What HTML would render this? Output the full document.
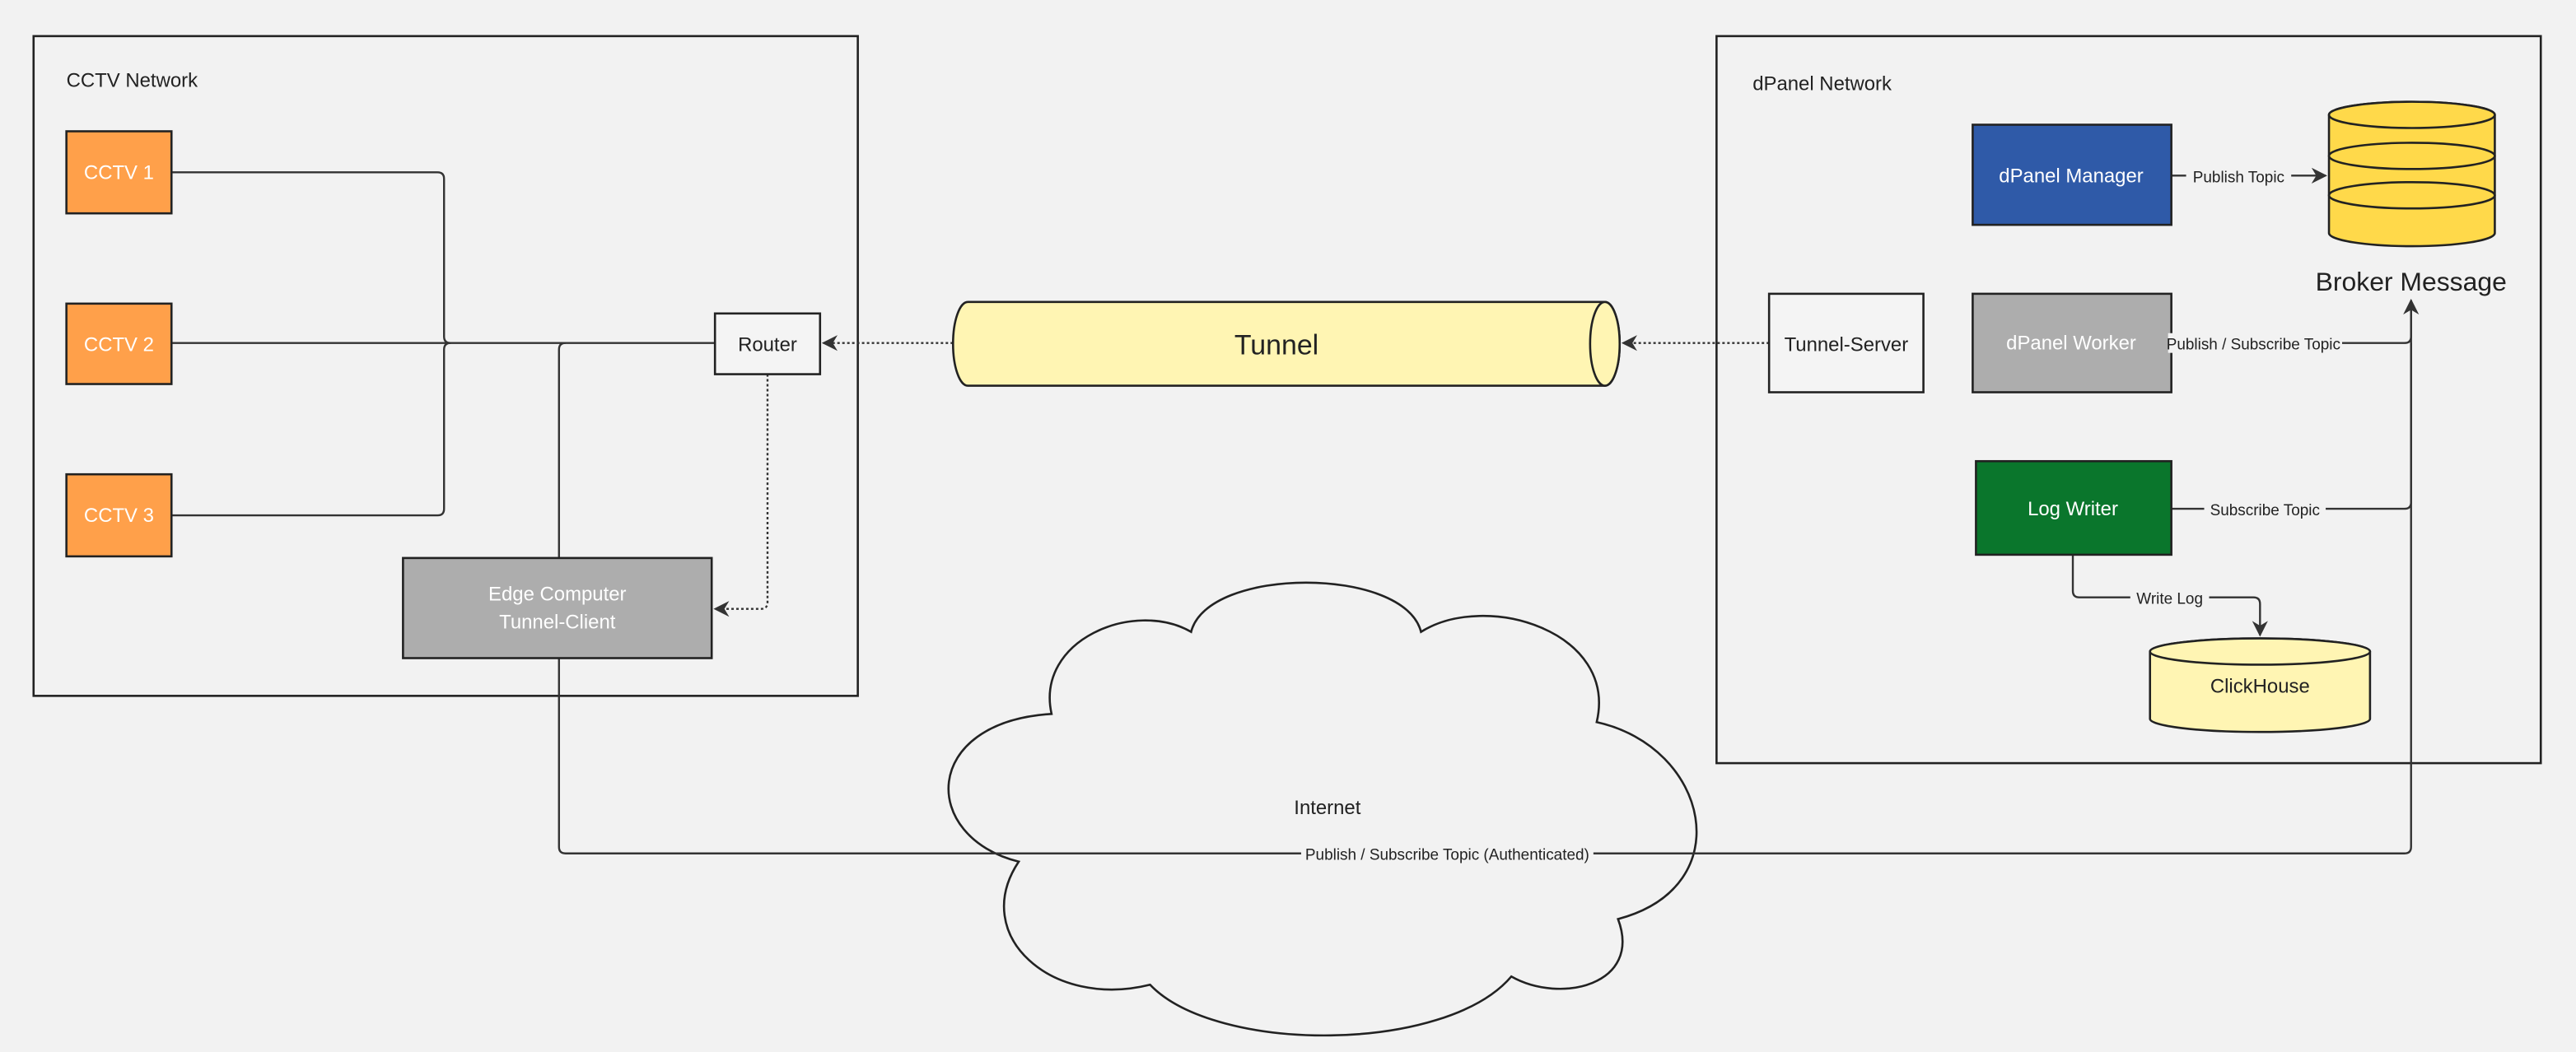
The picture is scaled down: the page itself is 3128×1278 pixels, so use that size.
<!DOCTYPE html>
<html><head><meta charset="utf-8"><style>html,body{margin:0;padding:0;background:#f2f2f2}svg{display:block}text{font-family:"Liberation Sans","DejaVu Sans",sans-serif}</style></head>
<body>
<svg width="3128" height="1278" viewBox="0 0 1568 641" xmlns="http://www.w3.org/2000/svg">
<defs>
<marker id="a" viewBox="0 0 10 10" refX="9" refY="5" markerWidth="8" markerHeight="8" orient="auto"><path d="M0,0 L10,5 L0,10 L3,5 Z" fill="#333"/></marker>
</defs>
<rect width="1568" height="641" fill="#f2f2f2"/>
<g fill="none" stroke="#222" stroke-width="1.3">
<rect x="20" y="22" width="502" height="402"/>
<rect x="1045" y="22" width="502" height="443"/>
</g>
<text x="40" y="53" font-size="12" fill="#222">CCTV Network</text>
<text x="1067" y="55" font-size="12" fill="#222">dPanel Network</text>
<!-- cloud -->
<path d="M640,435 C630,390 690,365 725,385 C735,345 855,345 865,385 C905,360 985,385 972,440 C1040,455 1060,540 985,560 C1000,600 950,612 920,595 C880,642 740,642 700,600 C640,615 590,570 620,525 C560,510 560,440 640,435 Z" fill="#f2f2f2" stroke="#222" stroke-width="1.3"/>
<text x="808" y="496" font-size="12" text-anchor="middle" fill="#222">Internet</text>
<!-- connectors CCTV -->
<g fill="none" stroke="#333" stroke-width="1.2">
<path d="M104,105 H266 Q270,105 270,109 V205 Q270,209 274,209"/>
<path d="M104,314 H266 Q270,314 270,310 V213 Q270,209 274,209"/>
<path d="M104,209 H435"/>
<path d="M340,340 V213 Q340,209 344,209"/>
<path d="M340,401 V516 Q340,520 344,520 H1464 Q1468,520 1468,516 V183" marker-end="url(#a)"/>
<path d="M1322,107 H1416" marker-end="url(#a)"/>
<path d="M1322,209 H1464 Q1468,209 1468,205 V183"/>
<path d="M1322,310 H1464 Q1468,310 1468,306 V209"/>
<path d="M1262,338 V360 Q1262,364 1266,364 H1372 Q1376,364 1376,368 V387" marker-end="url(#a)"/>
</g>
<g fill="none" stroke="#333" stroke-width="1.2" stroke-dasharray="1.5,1.5">
<path d="M580,209 H501" marker-end="url(#a)"/>
<path d="M1077,209 H988" marker-end="url(#a)"/>
<path d="M467,228 V367 Q467,371 463,371 H435" marker-end="url(#a)"/>
</g>
<!-- nodes -->
<g stroke="#222" stroke-width="1.3">
<rect x="40" y="80" width="64" height="50" fill="#ffa04a"/>
<rect x="40" y="185" width="64" height="49" fill="#ffa04a"/>
<rect x="40" y="289" width="64" height="50" fill="#ffa04a"/>
<rect x="435" y="191" width="64" height="37" fill="#f4f4f4"/>
<rect x="245" y="340" width="188" height="61" fill="#adadad"/>
<rect x="1201" y="76" width="121" height="61" fill="#2f5aa8"/>
<rect x="1077" y="179" width="94" height="60" fill="#f4f4f4"/>
<rect x="1201" y="179" width="121" height="60" fill="#adadad"/>
<rect x="1203" y="281" width="119" height="57" fill="#0a762c"/>
<!-- tunnel -->
<path d="M589,184 H977 A9,25.5 0 0 1 977,235 H589 A9,25.5 0 0 1 589,184 Z" fill="#fff5b3"/>
<ellipse cx="977" cy="209.5" rx="9" ry="25.5" fill="#fff5b3"/>
<!-- broker -->
<path d="M1418,70 A50.5,8 0 0 1 1519,70 V142 A50.5,8 0 0 1 1418,142 Z" fill="#ffd94a"/>
<ellipse cx="1468.5" cy="70" rx="50.5" ry="8" fill="#ffd94a"/>
<path d="M1418,95 A50.5,8 0 0 0 1519,95 M1418,95 A50.5,8 0 0 1 1519,95 M1418,119 A50.5,8 0 0 0 1519,119 M1418,119 A50.5,8 0 0 1 1519,119" fill="none"/>
<!-- clickhouse -->
<path d="M1309,397 A67,8 0 0 1 1443,397 V438 A67,8 0 0 1 1309,438 Z" fill="#fff5b3"/>
<ellipse cx="1376" cy="397" rx="67" ry="8" fill="#fff5b3"/>
</g>
<g font-size="12" text-anchor="middle" fill="#fff">
<text x="72" y="109">CCTV 1</text>
<text x="72" y="214">CCTV 2</text>
<text x="72" y="318">CCTV 3</text>
<text x="339" y="366">Edge Computer</text>
<text x="339" y="383">Tunnel-Client</text>
<text x="1261" y="111">dPanel Manager</text>
<text x="1261" y="213">dPanel Worker</text>
<text x="1262" y="314">Log Writer</text>
</g>
<g font-size="12" text-anchor="middle" fill="#222">
<text x="467" y="214">Router</text>
<text x="1124" y="214">Tunnel-Server</text>
<text x="1376" y="422">ClickHouse</text>
<text x="777" y="216" font-size="17">Tunnel</text>
<text x="1468" y="177" font-size="16">Broker Message</text>
</g>
<!-- edge labels -->
<g fill="#f2f2f2">
<rect x="1331" y="101" width="64" height="12"/>
<rect x="1320" y="203" width="106" height="12"/>
<rect x="1342" y="304" width="74" height="12"/>
<rect x="1297" y="358" width="48" height="12"/>
<rect x="792" y="514" width="178" height="12"/>
</g>
<g font-size="9.5" text-anchor="middle" fill="#222">
<text x="1363" y="111">Publish Topic</text>
<text x="1372" y="213">Publish / Subscribe Topic</text>
<text x="1379" y="314">Subscribe Topic</text>
<text x="1321" y="368">Write Log</text>
<text x="881" y="524">Publish / Subscribe Topic (Authenticated)</text>
</g>
</svg>
</body></html>
